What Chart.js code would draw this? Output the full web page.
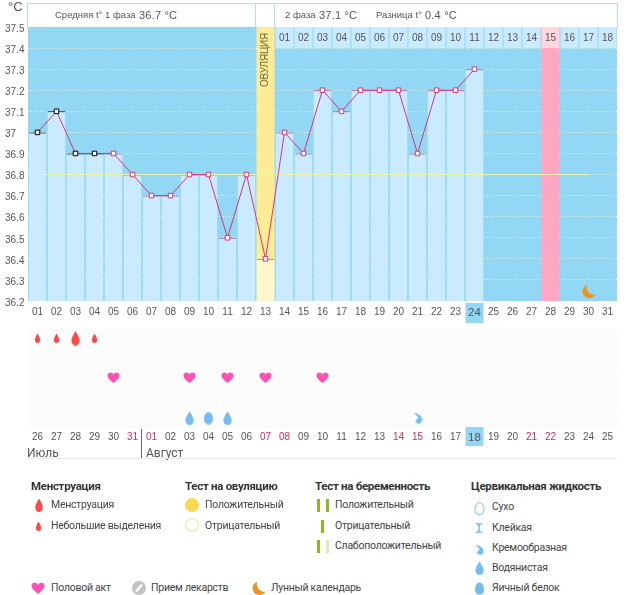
<!DOCTYPE html>
<html>
<head>
<meta charset="utf-8">
<title>BBT chart</title>
<script src="https://cdn.jsdelivr.net/npm/chart.js@4"></script>
<style>
  html, body { margin: 0; padding: 0; background: #fff; }
  #page { position: relative; width: 626px; height: 595px; overflow: hidden; font-family: Roboto, sans-serif; color: #444; }
  canvas { position: absolute; left: 0; display: block; }
  #topChart { top: 0; }
  #rowChart { top: 323px; }
  .t { position: absolute; white-space: nowrap; line-height: 14px; font-size: 10.5px; }
  .hd { font-family: "Liberation Sans", sans-serif; font-size: 9.5px; color: #555; top: 8px; }
  .hd b { font-weight: normal; font-size: 11px; letter-spacing: 0.2px; }
  .lg { font-size: 10.5px; letter-spacing: -0.25px; color: #444; }
  .lt { font-size: 11.5px; letter-spacing: -0.3px; font-weight: 700; color: #333; }
  .ln { position: absolute; }
  svg { position: absolute; overflow: visible; }
</style>
</head>
<body>
<div id="page">
  <div class="ln" style="left:27px;top:3px;width:589px;height:23px;border:1px solid #b4deec;background:#fff"></div>
  <div class="ln" style="left:255px;top:3px;width:1px;height:24px;background:#b4deec"></div>
  <div class="ln" style="left:274px;top:3px;width:1px;height:24px;background:#b4deec"></div>
  <canvas id="topChart" width="626" height="323"></canvas>
  <canvas id="rowChart" width="626" height="136"></canvas>
  <div id="labels"></div>
</div>
<script>
  var dayLabels   = ['01','02','03','04','05','06','07','08','09','10','11','12','13','14','15','16','17','18','19','20','21','22','23','24','25','26','27','28','29','30','31'];
  var dateLabels  = ['26','27','28','29','30','31','01','02','03','04','05','06','07','08','09','10','11','12','13','14','15','16','17','18','19','20','21','22','23','24','25'];
  var phaseLabels = ['','','','','','','','','','','','','','01','02','03','04','05','06','07','08','09','10','11','12','13','14','15','16','17','18'];
  var weekendDates = ['31','01','07','08','14','15','21','22'];
  var yTicks = [37.5,37.4,37.3,37.2,37.1,37,36.9,36.8,36.7,36.6,36.5,36.4,36.3,36.2];

  var temps = [37,37.1,36.9,36.9,36.9,36.8,36.7,36.7,36.8,36.8,36.5,36.8,36.4,37,36.9,37.2,37.1,37.2,37.2,37.2,36.9,37.2,37.2,37.3];
  var blackPoints = 4;   // first days drawn with the black marker
  var coverLine = [{ x: 1.5, y: 36.8 }, { x: 30, y: 36.8 }];
  var ovulationDay = 13;
  var peakDay = 28;
  var todayDay = 24;
  var sunPoint = [{ x: 13, y: 37.557 }];
  var moonPoint = [{ x: 30, y: 36.245 }];

  // row 1 bleeding, row 3 intercourse, row 5 cervical fluid
  var spottingDays = ['01','02','04'];
  var periodDays   = ['03'];
  var heartDays    = ['05','09','11','13','16'];
  var waterDays    = ['09','11'];
  var eggDays      = ['10'];
  var creamDays    = ['21'];

  var TEXT    = '#555';
  var BG      = '#92d7f4';
  var BAR     = '#c9ebfd';
  var PINK    = '#d8357a';
  var RED     = '#ff4848';
  var HEART   = '#ff50b4';
  var FLUID   = '#74bdee';
  var ORANGE  = '#f0941e';
  var SUN     = '#ffd84f';
  var GREEN   = '#8fb526';

  var PATHS = {
    drop:   'M12 1C12 1 3 11 3 16A9 8 0 0 0 21 16C21 11 12 1 12 1Z',
    egg:    'M12 1C18 1 22 8 22 14A10 9.5 0 0 1 2 14C2 8 6 1 12 1Z',
    heart:  'M12 22C5 16 1 12 1 7.5A5.5 5.5 0 0 1 12 6A5.5 5.5 0 0 1 23 7.5C23 12 19 16 12 22Z',
    cream:  'M3 1C12 3 23 7 23 15A8.5 8.5 0 0 1 7 19C9 15 12 13 14 12C11 8 7 5 3 1Z',
    moon:   'M10 1A11 11 0 1 0 23 17A12 12 0 0 1 10 1Z',
    sticky: 'M4 2H20V5H15.5L13.5 12L15.5 19H20V22H4V19H8.5L10.5 12L8.5 5H4Z'
  };

  function icon(name, color, w, h) {
    var c = document.createElement('canvas');
    c.width = w; c.height = h;
    var g = c.getContext('2d');
    g.scale(w / 24, h / 24);
    g.fillStyle = color;
    g.fill(new Path2D(PATHS[name]));
    return c;
  }

  function columnBar(day) {
    return dayLabels.map(function (_, i) { return i === day - 1 ? [36.2, 37.5] : null; });
  }

  var chartBackground = {
    id: 'chartBackground',
    beforeDraw: function (chart, args, opts) {
      var a = chart.chartArea, g = chart.ctx;
      g.save();
      g.fillStyle = opts.color;
      g.fillRect(a.left, a.top, a.right - a.left, a.bottom - a.top);
      var x = chart.scales.x.getPixelForValue(todayDay - 1);
      g.fillStyle = BG;
      g.fillRect(x - 9, a.bottom + opts.boxTop, 18, opts.boxHeight);
      g.restore();
    }
  };

  function xTicks(padding, colorFn) {
    return {
      autoSkip: false, maxRotation: 0, minRotation: 0, padding: padding,
      color: colorFn,
      font: function (ctx) {
        return { family: '"Liberation Sans", sans-serif', size: ctx.index === todayDay - 1 ? 11.5 : 10 };
      }
    };
  }

  new Chart(document.getElementById('topChart'), {
    type: 'bar',
    data: {
      labels: dayLabels,
      datasets: [
        {
          type: 'line', label: 'temp', data: temps, order: 0,
          borderColor: PINK, borderWidth: 1, tension: 0,
          pointStyle: 'rect', pointRadius: 3.2, pointBackgroundColor: '#fff',
          pointBorderWidth: 1,
          pointBorderColor: temps.map(function (_, i) { return i < blackPoints ? '#000' : PINK; })
        },
        {
          type: 'line', label: 'cover', data: coverLine, xAxisID: 'xDay', order: 1,
          borderColor: '#eef4a6', borderWidth: 1, pointRadius: 0
        },
        {
          type: 'line', label: 'sun', data: sunPoint, xAxisID: 'xDay', order: 1, clip: false,
          showLine: false, pointStyle: 'circle', pointRadius: 7.5,
          pointBackgroundColor: SUN, pointBorderWidth: 0
        },
        {
          type: 'line', label: 'moon', data: moonPoint, xAxisID: 'xDay', order: 1,
          showLine: false, pointStyle: icon('moon', ORANGE, 15, 15)
        },
        {
          label: 'phase', order: 2, grouped: false, barPercentage: 18 / 19, categoryPercentage: 1,
          data: phaseLabels.map(function (l) { return l ? [37.4, 37.5] : null; }),
          backgroundColor: dayLabels.map(function (_, i) { return i === peakDay - 1 ? '#ffd5e0' : BAR; })
        },
        {
          label: 'bars', order: 3, grouped: false, barPercentage: 18 / 19, categoryPercentage: 1,
          data: temps.map(function (v) { return [36.2, v]; }),
          backgroundColor: temps.map(function (_, i) { return i === ovulationDay - 1 ? '#fff6c9' : BAR; }),
          borderWidth: { top: 1, left: 0, right: 0, bottom: 0 },
          borderColor: temps.map(function (_, i) { return i < blackPoints ? '#000' : PINK; })
        },
        {
          label: 'ovulation', order: 4, grouped: false, barPercentage: 18 / 19, categoryPercentage: 1,
          data: columnBar(ovulationDay), backgroundColor: '#fdec96'
        },
        {
          label: 'peak', order: 4, grouped: false, barPercentage: 18 / 19, categoryPercentage: 1,
          data: columnBar(peakDay), backgroundColor: '#ffa6c3'
        }
      ]
    },
    options: {
      responsive: false,
      animation: false,
      events: [],
      layout: { padding: { left: 5, right: 9, top: 27, bottom: 0 } },
      plugins: {
        legend: { display: false },
        tooltip: { enabled: false },
        chartBackground: { color: BG, boxTop: 2, boxHeight: 20 }
      },
      scales: {
        x: {
          grid: { display: false, drawTicks: false }, border: { display: false },
          ticks: xTicks(5, function () { return TEXT; }),
          afterFit: function (s) { s.height = 22; }
        },
        xPhase: {
          type: 'category', labels: phaseLabels, position: 'top', offset: true,
          grid: { display: false, drawTicks: false }, border: { display: false },
          ticks: { autoSkip: false, maxRotation: 0, mirror: true, padding: 5, z: 1, color: TEXT, font: { family: '"Liberation Sans", sans-serif', size: 10 } },
          afterFit: function (s) { s.height = 0; }
        },
        xDay: { type: 'linear', min: 0.5, max: 31.5, offset: false, display: false },
        y: {
          min: 36.2, max: 37.5,
          grid: {
            drawTicks: false,
            color: function (ctx) { return ctx.tick && (ctx.tick.value === 37.5 || ctx.tick.value === 36.2) ? 'rgba(0,0,0,0)' : 'rgba(255,255,255,0.9)'; }
          },
          border: { display: false, dash: [1, 2] },
          afterBuildTicks: function (s) { s.ticks = yTicks.map(function (v) { return { value: v }; }); },
          afterFit: function (s) { s.width = 23; },
          ticks: {
            crossAlign: 'far', padding: 0, labelOffset: 2, autoSkip: false, color: TEXT,
            font: { family: '"Liberation Sans", sans-serif', size: 10 },
            callback: function (v) { return String(v); }
          }
        }
      }
    },
    plugins: [chartBackground]
  });

  function rowPoints(days, row) {
    return days.map(function (d) { return { x: dateLabels[dayLabels.indexOf(d)], y: row }; });
  }

  function rowSet(days, row, style) {
    return { data: rowPoints(days, row), showLine: false, pointStyle: style };
  }

  new Chart(document.getElementById('rowChart'), {
    type: 'line',
    data: {
      labels: dateLabels,
      datasets: [
        rowSet(spottingDays, 1, icon('drop', RED, 7, 10)),
        rowSet(periodDays, 1, icon('drop', RED, 11, 15)),
        rowSet(heartDays, 3, icon('heart', HEART, 13, 12)),
        rowSet(waterDays, 5, icon('drop', FLUID, 11, 14)),
        rowSet(eggDays, 5, icon('egg', FLUID, 11, 13)),
        rowSet(creamDays, 5, icon('cream', FLUID, 10, 12))
      ]
    },
    options: {
      responsive: false,
      animation: false,
      events: [],
      layout: { padding: { left: 28, right: 9, top: 0, bottom: 0 } },
      plugins: {
        legend: { display: false },
        tooltip: { enabled: false },
        chartBackground: { color: '#fbfbfb', boxTop: -1, boxHeight: 19 }
      },
      scales: {
        x: {
          offset: true,
          grid: { color: '#fff', drawTicks: false, offset: true }, border: { display: false },
          ticks: xTicks(3, function (ctx) {
            return weekendDates.indexOf(dateLabels[ctx.index]) >= 0 ? '#d62a62' : TEXT;
          }),
          afterFit: function (s) { s.height = 31; }
        },
        y: {
          reverse: true, min: 0.5, max: 5.5,
          grid: { color: '#fff', drawTicks: false }, border: { display: false },
          ticks: { display: false },
          afterBuildTicks: function (s) { s.ticks = [0.5, 1.5, 2.5, 3.5, 4.5].map(function (v) { return { value: v }; }); },
          afterFit: function (s) { s.width = 0; }
        }
      }
    },
    plugins: [chartBackground]
  });

  // ── Text and legend ─────────────────────────────────────
  var page = document.getElementById('labels');

  function addText(x, y, html, cls, extra) {
    var d = document.createElement('div');
    d.className = 't ' + (cls || '');
    d.style.left = x + 'px';
    d.style.top = (y - 7) + 'px';
    if (extra) d.style.cssText += extra;
    d.innerHTML = html;
    page.appendChild(d);
    return d;
  }

  function addSvg(cx, cy, w, h, body) {
    var s = document.createElementNS('http://www.w3.org/2000/svg', 'svg');
    s.setAttribute('width', w);
    s.setAttribute('height', h);
    s.setAttribute('viewBox', '0 0 24 24');
    s.setAttribute('preserveAspectRatio', 'none');
    s.style.left = (cx - w / 2) + 'px';
    s.style.top = (cy - h / 2) + 'px';
    s.innerHTML = body;
    page.appendChild(s);
  }

  function addIcon(name, color, cx, cy, w, h) {
    addSvg(cx, cy, w, h, '<path d="' + PATHS[name] + '" fill="' + color + '"/>');
  }

  function addBar(x, y, color) {
    var d = document.createElement('div');
    d.className = 'ln';
    d.style.cssText = 'left:' + x + 'px;top:' + (y - 6) + 'px;width:3px;height:13px;background:' + color;
    page.appendChild(d);
  }

  addText(8, 7, '°C', '', 'font-size:13px;color:#555;font-family:"Liberation Sans",sans-serif');
  addText(55, 15, 'Средняя t° 1 фаза', 'hd');
  addText(139, 15, '<b>36.7 °C</b>', 'hd');
  addText(285, 15, '2 фаза', 'hd');
  addText(319, 15, '<b>37.1 °C</b>', 'hd');
  addText(376, 15, 'Разница t°', 'hd');
  addText(425, 15, '<b>0.4 °C</b>', 'hd');

  addText(265, 60, 'ОВУЛЯЦИЯ', '', 'font-size:10px;letter-spacing:-0.2px;color:#6f6a3c;font-family:"Liberation Sans",sans-serif;transform:translate(-50%,0) rotate(-90deg);');

  addText(27, 453, 'Июль', '', 'font-size:12px;color:#555;');
  addText(146, 453, 'Август', '', 'font-size:12px;color:#555;');
  var sep = document.createElement('div');
  sep.className = 'ln';
  sep.style.cssText = 'left:141px;top:429px;width:1px;height:29px;background:#666';
  page.appendChild(sep);
  var foot = document.createElement('div');
  foot.className = 'ln';
  foot.style.cssText = 'left:27px;top:458px;width:590px;height:1px;background:#eaeaea';
  page.appendChild(foot);

  addText(31, 486, 'Менструация', 'lt');
  addIcon('drop', RED, 38.5, 505, 10, 14);
  addText(51, 505, 'Менструация', 'lg');
  addIcon('drop', RED, 38.5, 526, 7, 10);
  addText(51, 526, 'Небольшие выделения', 'lg');

  addText(185, 486, 'Тест на овуляцию', 'lt');
  addSvg(192, 505, 14, 14, '<circle cx="12" cy="12" r="12" fill="' + SUN + '"/>');
  addText(205, 505, 'Положительный', 'lg');
  addSvg(192, 525, 14, 14, '<circle cx="12" cy="12" r="11" fill="#fff" stroke="#f6eaa8" stroke-width="2"/>');
  addText(205, 526, 'Отрицательный', 'lg');

  addText(315, 486, 'Тест на беременность', 'lt');
  addBar(317, 505, GREEN); addBar(326, 505, GREEN);
  addText(335, 505, 'Положительный', 'lg');
  addBar(321, 526, GREEN);
  addText(335, 526, 'Отрицательный', 'lg');
  addBar(317, 546, GREEN); addBar(326, 546, '#dfe8bb');
  addText(335, 546, 'Слабоположительный', 'lg');

  addText(471, 486, 'Цервикальная жидкость', 'lt');
  addSvg(479, 508, 11, 13, '<path d="' + PATHS.egg + '" fill="#fff" stroke="#8cc4e8" stroke-width="2"/>');
  addText(492, 507, 'Сухо', 'lg');
  addIcon('sticky', '#8cc4e8', 479, 528, 10, 12);
  addText(492, 528, 'Клейкая', 'lg');
  addIcon('cream', FLUID, 479, 549, 10, 11);
  addText(492, 548, 'Кремообразная', 'lg');
  addIcon('drop', FLUID, 479, 568, 11, 14);
  addText(492, 568, 'Водянистая', 'lg');
  addIcon('egg', FLUID, 479, 588, 11, 13);
  addText(492, 588, 'Яичный белок', 'lg');

  addIcon('heart', HEART, 37.5, 588, 14, 13);
  addText(51, 588, 'Половой акт', 'lg');
  addSvg(139, 588, 14, 14, '<circle cx="12" cy="12" r="12" fill="#c4c4c4"/><path d="M7 18L17 6" stroke="#fff" stroke-width="4"/>');
  addText(151, 588, 'Прием лекарств', 'lg');
  addIcon('moon', ORANGE, 258, 588, 15, 15);
  addText(271, 588, 'Лунный календарь', 'lg');
</script>
</body>
</html>
